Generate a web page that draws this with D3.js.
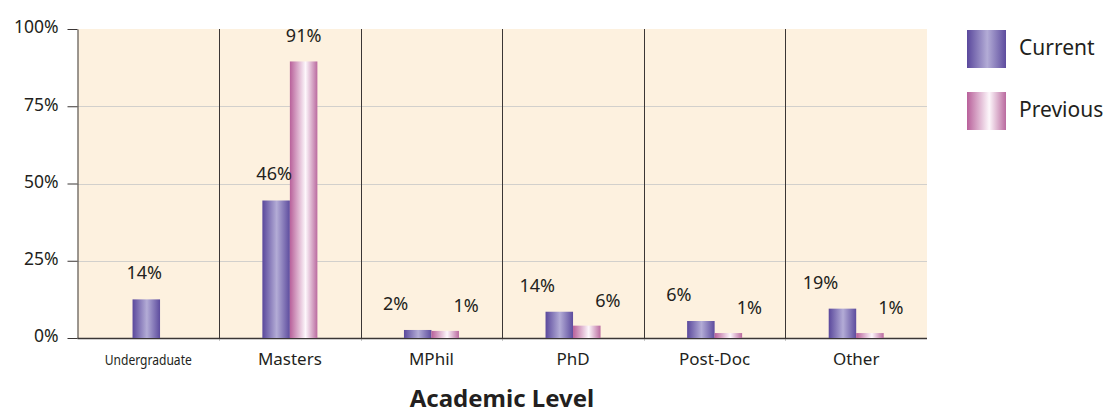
<!DOCTYPE html>
<html>
<head>
<meta charset="utf-8">
<script src="https://cdn.jsdelivr.net/npm/d3@7"></script>
<style>
  body { margin: 0; background: #fff; }
  svg { display: block; font-family: "Noto Sans", sans-serif; }
</style>
</head>
<body>
<svg id="chart" width="1103" height="414"></svg>
<script>
// values, labels as printed on the chart
var levels = ["Undergraduate", "Masters", "MPhil", "PhD", "Post-Doc", "Other"];
var currentVals = [12.5, 44.5, 2.6, 8.5, 5.5, 9.5];
var previousVals = [null, 89.5, 2.3, 4, 1.6, 1.6];
var currentLabels = ["14%", "46%", "2%", "14%", "6%", "19%"];
var previousLabels = [null, "91%", "1%", "6%", "1%", "1%"];
var yTicks = [0, 25, 50, 75, 100];
var seriesNames = ["Current", "Previous"];

(function() {
var svg = d3.select("#chart");
var pLeft = 77.5, pRight = 927, pTop = 29, pBottom = 338;

var x = d3.scaleBand().domain(levels).range([pLeft, pRight]).padding(0);
var y = d3.scaleLinear().domain([0, 100]).range([pBottom, pTop]);
var bw = 27.5;

// gradients
var defs = svg.append("defs");
function grad(id, stops) {
    var g = defs.append("linearGradient").attr("id", id)
        .attr("x1", "0%").attr("x2", "100%").attr("y1", "0%").attr("y2", "0%");
    stops.forEach(function(s) {
        g.append("stop").attr("offset", s[0]).attr("stop-color", s[1]);
    });
}
grad("gCur", [["0%", "#5a489c"], ["52%", "#b3acd6"], ["100%", "#5d4c9e"]]);
grad("gPrev", [["0%", "#b8609a"], ["57%", "#fdf7fb"], ["100%", "#ba6a9f"]]);

// plot background
svg.append("rect")
    .attr("x", pLeft).attr("y", pTop)
    .attr("width", pRight - pLeft).attr("height", pBottom - pTop)
    .attr("fill", "#fdf1df");

// horizontal grid
svg.append("g").selectAll("line")
    .data(yTicks.filter(function(d) { return d > 0 && d < 100; }))
    .join("line")
    .attr("x1", pLeft).attr("x2", pRight)
    .attr("y1", function(d) { return Math.round(y(d)) + 0.5; })
    .attr("y2", function(d) { return Math.round(y(d)) + 0.5; })
    .attr("stroke", "#d2d0cc").attr("stroke-width", 1);

// category dividers
svg.append("g").selectAll("line")
    .data(levels.slice(1))
    .join("line")
    .attr("x1", function(d) { return Math.round(x(d)) + 0.5; })
    .attr("x2", function(d) { return Math.round(x(d)) + 0.5; })
    .attr("y1", pTop).attr("y2", pBottom)
    .attr("stroke", "#3b3635").attr("stroke-width", 1);
svg.append("g").selectAll("line")
    .data(levels.slice(1))
    .join("line")
    .attr("x1", function(d) { return Math.round(x(d)) + 0.5; })
    .attr("x2", function(d) { return Math.round(x(d)) + 0.5; })
    .attr("y1", pBottom).attr("y2", pBottom + 3)
    .attr("stroke", "#c8c8c8").attr("stroke-width", 1);

// y axis
var yAxis = svg.append("g")
    .attr("transform", "translate(" + pLeft + ",0)")
    .call(d3.axisLeft(y).tickValues(yTicks).tickSize(10).tickSizeOuter(0).tickPadding(9)
        .tickFormat(function(d) { return d + "%"; }));
yAxis.select(".domain").attr("stroke", "#3b3635");
yAxis.selectAll(".tick line").attr("stroke", "#3b3635");
yAxis.selectAll(".tick text")
    .attr("font-family", "Noto Sans").attr("font-size", 17.5)
    .attr("fill", "#231f20").attr("dy", "0.22em");

// x baseline
svg.append("line")
    .attr("x1", pLeft).attr("x2", pRight)
    .attr("y1", pBottom + 0.5).attr("y2", pBottom + 0.5)
    .attr("stroke", "#3b3635").attr("stroke-width", 1.5);

// bars
function center(i) { return x(levels[i]) + x.bandwidth() / 2; }
function curX(i) {
    return previousVals[i] == null ? center(i) - bw / 2 - 2 : center(i) - bw;
}
function spread(i) {
    return previousVals[i] != null && Math.max(currentVals[i], previousVals[i]) < 20;
}
var idx = d3.range(levels.length);
var idxPrev = idx.filter(function(i) { return previousVals[i] != null; });

var bars = svg.append("g");
bars.selectAll("rect.cur")
    .data(idx)
    .join("rect").attr("class", "cur")
    .attr("x", function(i) { return curX(i); })
    .attr("y", function(i) { return y(currentVals[i]); })
    .attr("width", bw)
    .attr("height", function(i) { return y(0) - y(currentVals[i]); })
    .attr("fill", "url(#gCur)");

bars.selectAll("rect.prev")
    .data(idxPrev)
    .join("rect").attr("class", "prev")
    .attr("x", function(i) { return center(i); })
    .attr("y", function(i) { return y(previousVals[i]); })
    .attr("width", bw)
    .attr("height", function(i) { return y(0) - y(previousVals[i]); })
    .attr("fill", "url(#gPrev)");

// value labels
var labels = svg.append("g")
    .attr("font-family", "Noto Sans").attr("font-size", 18)
    .attr("fill", "#231f20").attr("text-anchor", "middle");

labels.selectAll("text.cur")
    .data(idx)
    .join("text").attr("class", "cur")
    .attr("x", function(i) {
        var c = curX(i) + bw / 2;
        return spread(i) ? c - 22 : c - 2;
    })
    .attr("y", function(i) { return y(currentVals[i]) - 20; })
    .text(function(i) { return currentLabels[i]; });

labels.selectAll("text.prev")
    .data(idxPrev)
    .join("text").attr("class", "prev")
    .attr("x", function(i) {
        var c = center(i) + bw / 2;
        return spread(i) ? c + 21 : c;
    })
    .attr("y", function(i) { return y(previousVals[i]) - 19; })
    .text(function(i) { return previousLabels[i]; });

// category labels
svg.append("g").selectAll("text")
    .data(idx)
    .join("text")
    .attr("x", function(i) { return center(i); })
    .attr("y", 365)
    .attr("text-anchor", "middle")
    .attr("font-family", "Noto Sans")
    .attr("font-size", function(i) { return levels[i] === "Undergraduate" ? 15 : 17; })
    .attr("fill", "#231f20")
    .each(function(i) {
        if (levels[i] === "Undergraduate") {
            d3.select(this).attr("textLength", 87).attr("lengthAdjust", "spacingAndGlyphs");
        }
    })
    .text(function(i) { return levels[i]; });

// axis title
svg.append("text")
    .attr("x", 502).attr("y", 407)
    .attr("text-anchor", "middle")
    .attr("font-family", "Noto Sans").attr("font-weight", "bold").attr("font-size", 24)
    .attr("fill", "#231f20")
    .text("Academic Level");

// legend
var legend = svg.append("g").selectAll("g")
    .data(seriesNames)
    .join("g")
    .attr("transform", function(d, i) { return "translate(967," + (30 + i * 62) + ")"; });
legend.append("rect")
    .attr("width", 39).attr("height", 38)
    .attr("fill", function(d, i) { return i === 0 ? "url(#gCur)" : "url(#gPrev)"; });
legend.append("text")
    .attr("x", 52).attr("y", 25)
    .attr("font-family", "Noto Sans").attr("font-size", 21)
    .attr("fill", "#231f20")
    .text(function(d) { return d; });
})();
</script>
</body>
</html>
